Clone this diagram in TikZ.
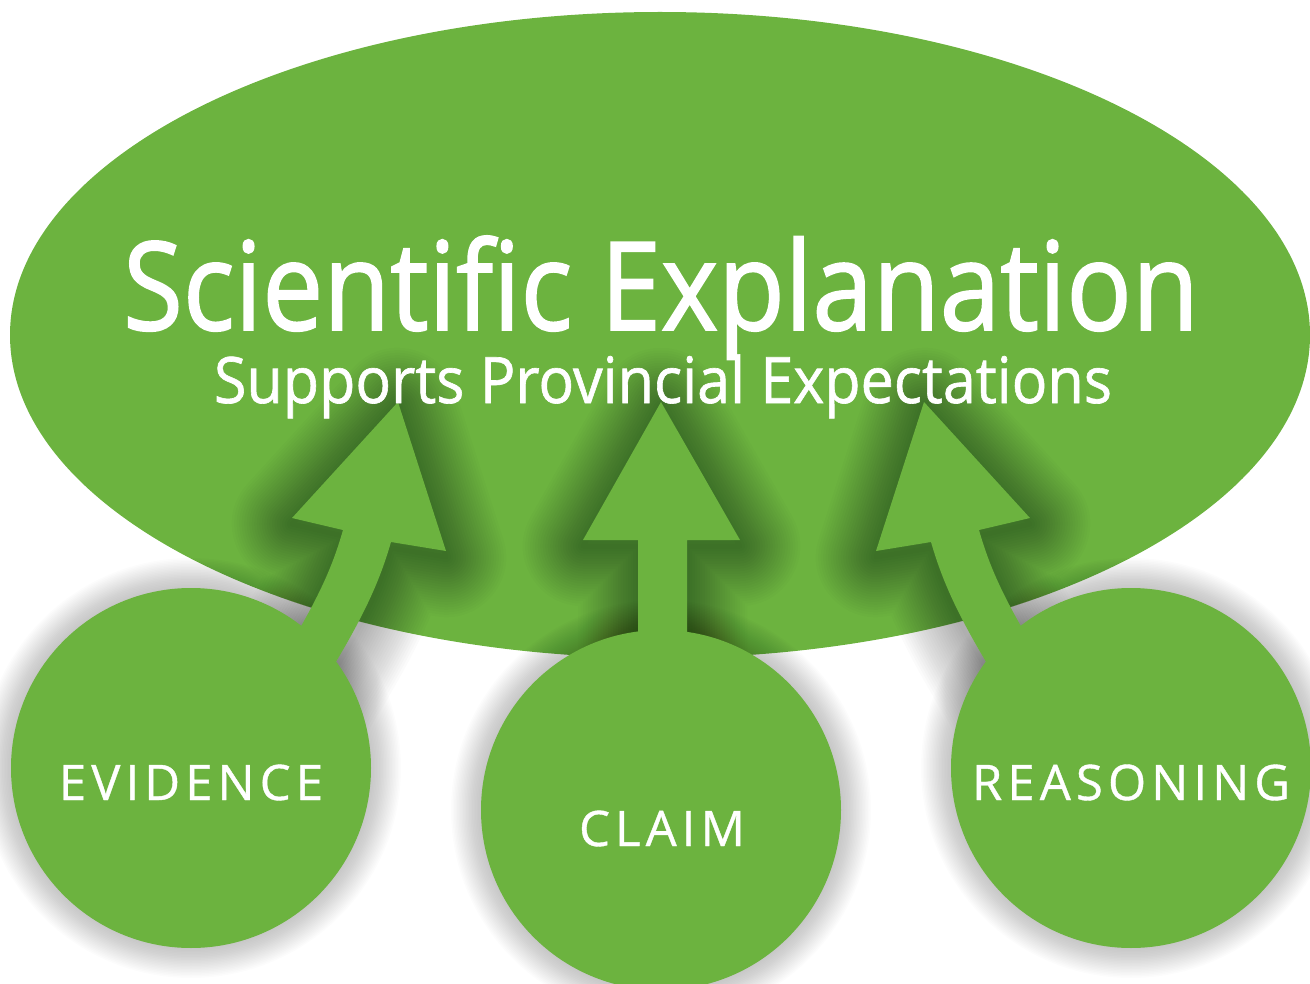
\documentclass[tikz,border=0pt]{standalone}
\usepackage{fontspec}
\setmainfont{Open Sans}
\usetikzlibrary{shapes.geometric}
\definecolor{leaf}{HTML}{6CB33F}
\tikzset{
  mainoval/.style={ellipse, fill=leaf, minimum width=1300pt, minimum height=646pt, inner sep=0pt},
  bubble/.style={circle, fill=leaf, minimum size=360pt, inner sep=0pt},
  arrowglow/.style={draw=black, draw opacity=0.014, line join=round},
  circglow/.style={draw=black, draw opacity=0.011},
  sidearrowpath/.style={insert path={(260,697) -- (290,645) .. controls (320,595) and (333,565) .. (343,530) -- (292,518) -- (398,402) -- (446,551) -- (391,542) .. controls (380,580) and (365,615) .. (325,680) -- (295,732) -- cycle}},
  midarrowpath/.style={insert path={(638,760) -- (638,540) -- (583,540) -- (661,402) -- (740,540) -- (687,540) -- (687,760) -- cycle}},
  titletext/.style={text=white, inner sep=0pt, font=\fontsize{123}{130}\selectfont\addfontfeatures{FakeBold=1.5}},
  subtext/.style={text=white, inner sep=0pt, font=\fontsize{64}{70}\selectfont\addfontfeatures{FakeBold=1}},
  labeltext/.style={text=white, inner sep=0pt, font=\fontsize{49}{55}\selectfont\addfontfeatures{LetterSpace=10.5,FakeBold=0.8}}
}
\begin{document}
\begin{tikzpicture}[x=1pt,y=-1pt]
\useasboundingbox (0,0) rectangle (1310,984);
\node[mainoval] (main) at (660,335) {};
\coordinate (evc) at (191,768);
\coordinate (clc) at (661,810);
\coordinate (rec) at (1131,768);
% soft shadows of the arrows
\begin{scope}[shift={(0,6)}]
  \foreach \i in {1,...,24} {
    \draw[arrowglow, line width=5pt*\i, sidearrowpath];
    \draw[arrowglow, line width=5pt*\i, midarrowpath];
  }
\end{scope}
\begin{scope}[shift={(1322,6)}, xscale=-1]
  \foreach \i in {1,...,24} {
    \draw[arrowglow, line width=5pt*\i, sidearrowpath];
  }
\end{scope}
% soft shadows of the circles
\begin{scope}[shift={(2,9)}]
  \foreach \i in {1,...,20} {
    \draw[circglow, line width=3pt*\i] (evc) circle[radius=180pt];
    \draw[circglow, line width=3pt*\i] (clc) circle[radius=180pt];
    \draw[circglow, line width=3pt*\i] (rec) circle[radius=180pt];
  }
\end{scope}
% fills
\fill[leaf, sidearrowpath];
\fill[leaf, midarrowpath];
\begin{scope}[shift={(1322,0)}, xscale=-1]
  \fill[leaf, sidearrowpath];
\end{scope}
\node[bubble] (ev) at (evc) {};
\node[bubble] (cl) at (clc) {};
\node[bubble] (re) at (rec) {};
% texts
\node[titletext, anchor=base] (title) at (661,330) {\scalebox{0.885}[1]{Scientific Explanation}};
\node[subtext, anchor=base] (sub) at (663,403) {\scalebox{0.925}[1]{Supports Provincial Expectations}};
\node[labeltext, anchor=base] (evt) at (191,800) {EVIDENCE};
\node[labeltext, anchor=base] (clt) at (662,846) {CLAIM};
\node[labeltext, anchor=base] (ret) at (1131,800) {REASONING};
\end{tikzpicture}
\end{document}
